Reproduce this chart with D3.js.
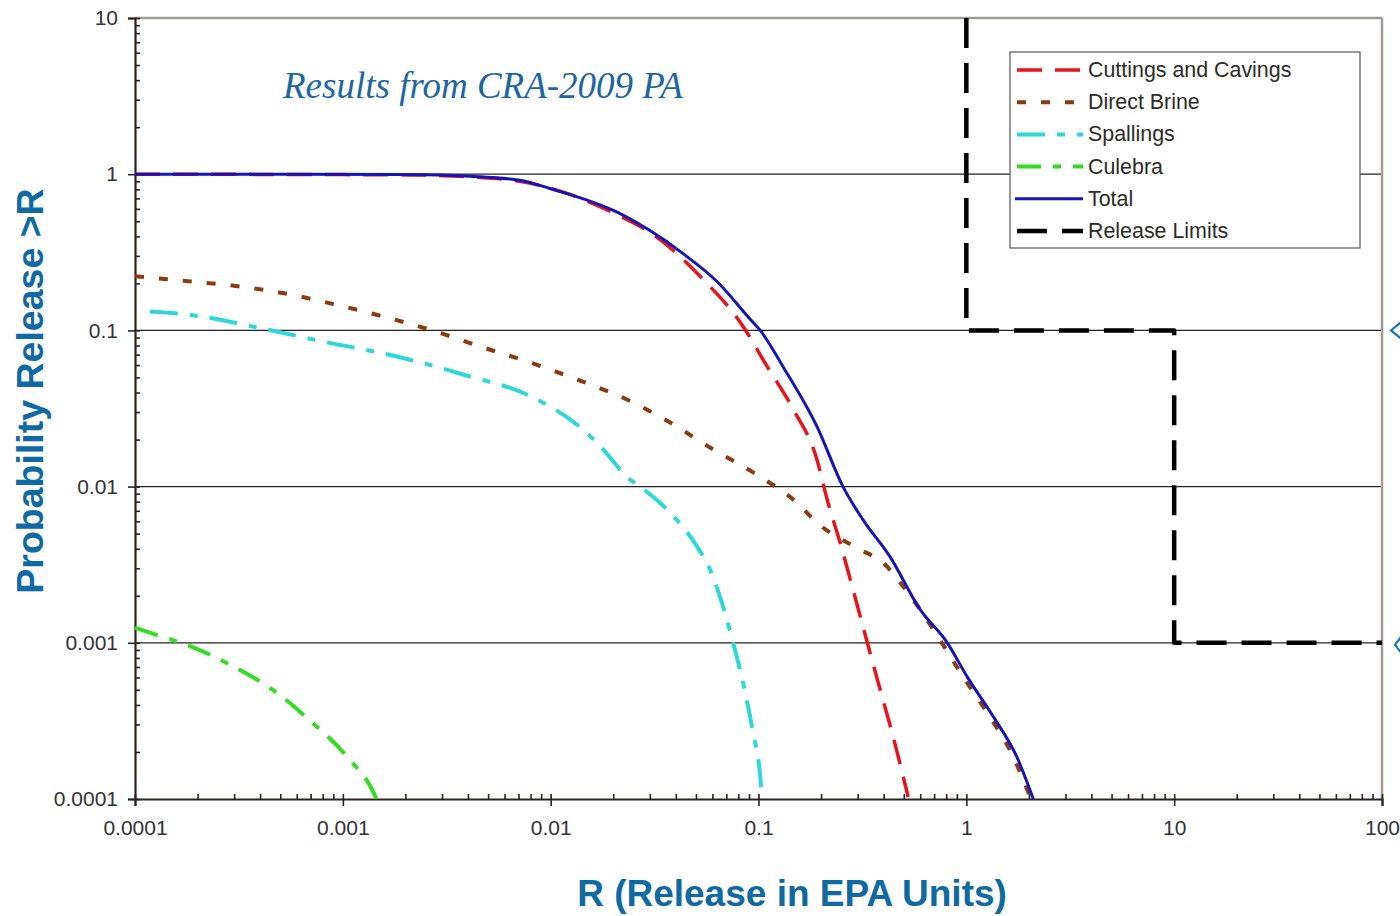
<!DOCTYPE html>
<html>
<head>
<meta charset="utf-8">
<script src="https://cdn.jsdelivr.net/npm/d3@7"></script>
<style>
  html, body { margin: 0; padding: 0; background: #fff; overflow: hidden; }
  svg { display: block; }
  .tick text { font-family: "Liberation Sans", Arial, sans-serif; font-size: 21px; fill: #333; }
</style>
</head>
<body>
<svg id="chart" width="1400" height="916"></svg>
<script>
// --- Data ---
const xTicks = [0.0001, 0.001, 0.01, 0.1, 1, 10, 100];
const xTickLabels = ["0.0001", "0.001", "0.01", "0.1", "1", "10", "100"];
const yTicks = [10, 1, 0.1, 0.01, 0.001, 0.0001];
const yTickLabels = ["10", "1", "0.1", "0.01", "0.001", "0.0001"];
const gridValues = [1, 0.1, 0.01, 0.001];

// [R, probability]
const cuttings = [[0.0001, 1], [0.002, 0.99], [0.0041, 0.963], [0.0071, 0.9], [0.0115, 0.767],
  [0.0209, 0.55], [0.030, 0.425], [0.0524, 0.222], [0.0843, 0.106], [0.110, 0.0588],
  [0.147, 0.0312], [0.191, 0.0149], [0.214, 0.00826], [0.247, 0.00438], [0.285, 0.00219],
  [0.334, 0.001], [0.385, 0.0005], [0.445, 0.000249], [0.525, 0.000103]];
const directBrine = [[0.0001, 0.222], [0.000184, 0.206], [0.00032, 0.191], [0.000557, 0.17],
  [0.000948, 0.145], [0.00163, 0.121], [0.00278, 0.0986], [0.00473, 0.0778], [0.00796, 0.0623],
  [0.0134, 0.0485], [0.0233, 0.0361], [0.0376, 0.0257], [0.0605, 0.0173], [0.0984, 0.0119],
  [0.153, 0.00789], [0.191, 0.00588], [0.308, 0.00395], [0.398, 0.00326], [0.48, 0.00243],
  [0.6, 0.00163], [0.748, 0.00104], [0.966, 0.000605], [1.26, 0.000356], [1.62, 0.000206],
  [2.03, 0.000103]];
const spallings = [[0.000118, 0.132], [0.00019, 0.125], [0.000386, 0.1045], [0.00084, 0.0838],
  [0.00182, 0.0681], [0.00379, 0.0522], [0.00823, 0.0372], [0.0136, 0.0245], [0.0167, 0.0191],
  [0.0241, 0.0111], [0.0269, 0.01], [0.0363, 0.00713], [0.0507, 0.00412], [0.0585, 0.00294],
  [0.0676, 0.0017], [0.0755, 0.001], [0.0843, 0.000554], [0.0942, 0.000265], [0.102, 0.000138],
  [0.104, 0.0001]];
const culebra = [[0.0001, 0.00125], [0.000136, 0.00109], [0.000178, 0.00097], [0.000287, 0.000723],
  [0.000482, 0.000478], [0.000673, 0.00033], [0.00105, 0.000186], [0.0014, 0.000111],
  [0.00145, 0.0001]];
const total = [[0.0001, 1], [0.002, 0.995], [0.0041, 0.97], [0.0071, 0.915], [0.0099, 0.81],
  [0.0209, 0.571], [0.0434, 0.31], [0.0633, 0.205], [0.0912, 0.118], [0.102, 0.1],
  [0.131, 0.0588], [0.191, 0.0243], [0.255, 0.01], [0.318, 0.00614], [0.429, 0.00356],
  [0.6, 0.00163], [0.81, 0.001], [1.01, 0.000605], [1.35, 0.000336], [1.75, 0.000186],
  [2.1, 0.0001]];
const releaseLimits = [[1, 10], [1, 0.1], [10, 0.1], [10, 0.001], [100, 0.001]];

const seriesNames = ["Cuttings and Cavings", "Direct Brine", "Spallings", "Culebra", "Total", "Release Limits"];
const seriesData = [cuttings, directBrine, spallings, culebra, total, releaseLimits];

// styles per series
const seriesStyle = [
  { color: "#e8141c", width: 3.5, dash: "25,13", curve: true },
  { color: "#8b3a12", width: 4, dash: "9,15", curve: true },
  { color: "#2fd8d8", width: 4, dash: "28,12,8,12", curve: true },
  { color: "#33dd22", width: 4, dash: "24,12,8,12", curve: true },
  { color: "#1414b8", width: 3, dash: null, curve: true },
  { color: "#000", width: 4.5, dash: "30,15", curve: false }
];

// --- Layout ---
const svg = d3.select("#chart");
const plot = { left: 135, right: 1382, top: 18, bottom: 799 };

const x = d3.scaleLog().domain([0.0001, 100]).range([plot.left, plot.right]);
const y = d3.scaleLog().domain([0.0001, 10]).range([plot.bottom, plot.top]);

// minor tick values
const minorX = [];
for (let e = -4; e < 2; e++) for (let k = 2; k <= 9; k++) minorX.push(k * Math.pow(10, e));
const minorY = [];
for (let e = -4; e < 1; e++) for (let k = 2; k <= 9; k++) minorY.push(k * Math.pow(10, e));

// clip
svg.append("clipPath").attr("id", "plotClip")
  .append("rect")
  .attr("x", plot.left).attr("y", plot.top - 2)
  .attr("width", plot.right - plot.left).attr("height", plot.bottom - plot.top + 2);

// horizontal gridlines
svg.append("g").selectAll("line")
  .data(gridValues)
  .join("line")
  .attr("x1", plot.left).attr("x2", plot.right)
  .attr("y1", d => y(d)).attr("y2", d => y(d))
  .attr("stroke", "#222").attr("stroke-width", 1.2);

// frame: top and right in grey-brown
svg.append("line").attr("x1", plot.left).attr("x2", plot.right)
  .attr("y1", y(10)).attr("y2", y(10))
  .attr("stroke", "#a39a92").attr("stroke-width", 2.5);
svg.append("line").attr("x1", x(100)).attr("x2", x(100))
  .attr("y1", plot.top).attr("y2", plot.bottom)
  .attr("stroke", "#a39a92").attr("stroke-width", 2.5);

// --- Axes ---
svg.append("g")
  .attr("transform", `translate(0,${plot.bottom})`)
  .call(d3.axisBottom(x).tickValues(xTicks).tickSize(7).tickPadding(14)
    .tickFormat((d, i) => xTickLabels[i]));
const xMinor = svg.append("g")
  .attr("transform", `translate(0,${plot.bottom})`)
  .call(d3.axisBottom(x).tickValues(minorX).tickSize(-5).tickFormat(""));
// major x ticks also poke up inside
const xMajorIn = svg.append("g")
  .attr("transform", `translate(0,${plot.bottom})`)
  .call(d3.axisBottom(x).tickValues(xTicks).tickSize(-5).tickFormat(""));

svg.append("g")
  .attr("transform", `translate(${plot.left},0)`)
  .call(d3.axisLeft(y).tickValues(yTicks).tickSize(7).tickPadding(10)
    .tickFormat((d, i) => yTickLabels[i]));
const yMinor = svg.append("g")
  .attr("transform", `translate(${plot.left},0)`)
  .call(d3.axisLeft(y).tickValues(minorY).tickSize(-5).tickFormat(""));
const yMajorIn = svg.append("g")
  .attr("transform", `translate(${plot.left},0)`)
  .call(d3.axisLeft(y).tickValues(yTicks).tickSize(-5).tickFormat(""));

svg.selectAll(".domain").attr("stroke", "#2a2420").attr("stroke-width", 2.2);
svg.selectAll(".tick line").attr("stroke", "#2a2420").attr("stroke-width", 1.6);
svg.selectAll(".tick text").attr("fill", "#3a3530");
// keep the extra tick axes from redrawing the domain
[xMinor, xMajorIn, yMinor, yMajorIn].forEach(g => g.select(".domain").remove());

// --- Curves ---
const line = d3.line().x(d => x(d[0])).y(d => y(d[1]));
const curveGroup = svg.append("g").attr("clip-path", "url(#plotClip)");
seriesData.forEach((data, i) => {
  const st = seriesStyle[i];
  curveGroup.append("path")
    .datum(data)
    .attr("fill", "none")
    .attr("stroke", st.color)
    .attr("stroke-width", st.width)
    .attr("stroke-dasharray", st.dash)
    .attr("stroke-linejoin", "round")
    .attr("d", line.curve(st.curve ? d3.curveMonotoneX : d3.curveLinear));
});

// --- Legend ---
const legend = svg.append("g").attr("transform", "translate(1010,52)");
legend.append("rect")
  .attr("width", 350).attr("height", 196)
  .attr("fill", "#fff").attr("stroke", "#555").attr("stroke-width", 1.2);
seriesNames.forEach((name, i) => {
  const st = seriesStyle[i];
  const ly = 18 + i * 32.2;
  legend.append("line")
    .attr("x1", st.dash ? 7 : 5).attr("x2", 73)
    .attr("y1", ly).attr("y2", ly)
    .attr("stroke", st.color).attr("stroke-width", st.width)
    .attr("stroke-dasharray", st.dash);
  legend.append("text")
    .attr("x", 78).attr("y", ly + 7)
    .attr("font-family", "Liberation Sans, Arial, sans-serif")
    .attr("font-size", 21.4)
    .attr("fill", "#2e2a26")
    .text(name);
});

// --- Titles ---
svg.append("text")
  .attr("x", 283).attr("y", 98)
  .attr("font-family", "Liberation Serif, Times New Roman, serif")
  .attr("font-style", "italic")
  .attr("font-size", 37)
  .attr("fill", "#1c66a3")
  .text("Results from CRA-2009 PA");

svg.append("text")
  .attr("transform", "translate(43,391) rotate(-90)")
  .attr("text-anchor", "middle")
  .attr("font-family", "Liberation Sans, Arial, sans-serif")
  .attr("font-weight", "bold")
  .attr("font-size", 37.5)
  .attr("fill", "#0f69a3")
  .text("Probability Release >R");

svg.append("text")
  .attr("x", 792).attr("y", 906)
  .attr("text-anchor", "middle")
  .attr("font-family", "Liberation Sans, Arial, sans-serif")
  .attr("font-weight", "bold")
  .attr("font-size", 37)
  .attr("fill", "#0f69a3")
  .text("R (Release in EPA Units)");

// cropped arrow markers at the right edge
svg.append("g").selectAll("path")
  .data([0.1, 0.001])
  .join("path")
  .attr("d", (d, i) => {
    const yy = y(d) + (i ? 2 : 0);
    const xx = i ? 1395 : 1391;
    return `M1402,${yy - 9} L${xx},${yy} L1402,${yy + 9}`;
  })
  .attr("fill", "none").attr("stroke", "#1c79b8").attr("stroke-width", 2.2);
</script>
</body>
</html>
